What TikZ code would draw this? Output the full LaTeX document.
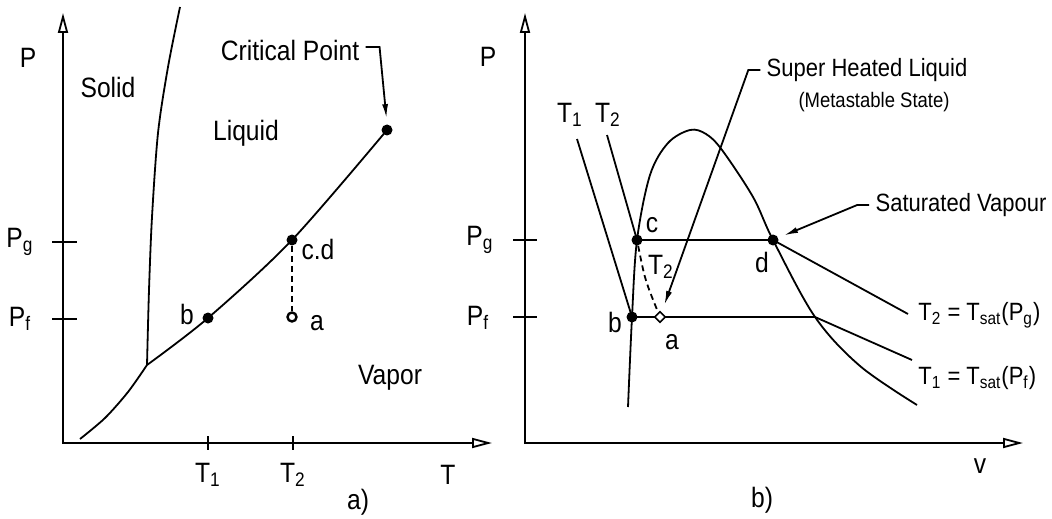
\documentclass[tikz,border=0pt]{standalone}
\usepackage{fontspec}
\setmainfont{Liberation Sans}[FakeStretch=0.88]
\usetikzlibrary{arrows.meta,positioning,shapes.geometric}
\tikzset{
  axline/.style={line width=0.9pt, {Triangle[open,length=10pt,width=5pt]}-{Triangle[open,length=10pt,width=5pt]}},
  curve/.style={line width=0.9pt},
  isobar/.style={line width=1.2pt},
  tickmark/.style={line width=0.9pt},
  dot/.style={circle, fill=black, inner sep=0pt, minimum size=5.5pt},
  odot/.style={circle, draw, line width=1.2pt, fill=white, inner sep=0pt, minimum size=4.5pt},
  odiam/.style={diamond, draw, line width=0.8pt, fill=white, inner sep=0pt, minimum size=5.5pt},
  lead/.style={line width=0.9pt, -{Latex[length=7pt,width=3pt]}},
  lbl/.style={font=\fontsize{14}{16}\selectfont, inner sep=0pt},
  note/.style={font=\fontsize{12.5}{14}\selectfont, inner sep=0pt},
  meta/.style={font=\fontsize{10.5}{12}\selectfont, inner sep=0pt}
}
\begin{document}
\begin{tikzpicture}[x=0.5pt,y=-0.5pt]
  \useasboundingbox (0,0) rectangle (1052,518);

  % ---- a) P-T diagram
  \coordinate (Ao) at (63,443);
  \coordinate (Ay) at (63,13);
  \coordinate (Ax) at (492,443);
  \draw[axline] (Ay) |- (Ax);
  \foreach \y in {242,319}{
    \draw[tickmark] (52,\y) -- (77,\y);
  }
  \foreach \x in {208,293}{
    \draw[tickmark] (\x,436) -- (\x,450);
  }

  \coordinate (tp) at (147,365);
  \coordinate (pb1) at (208,318);
  \coordinate (pcd1) at (292,240);
  \coordinate (pcp) at (387,130);
  \draw[curve] plot[smooth] coordinates {(80,439) (105,418) (128,392) (tp)};
  \draw[curve] plot[smooth] coordinates {(tp) (149,290) (152,217) (158,133) (168,67) (180,7)};
  \draw[curve] plot[smooth, tension=0.5] coordinates {(tp) (pb1) (pcd1) (pcp)};

  \node[dot] (b1) at (pb1) {};
  \node[dot] (cd1) at (pcd1) {};
  \node[dot] (cp) at (pcp) {};
  \node[odot] (a1) at (292,317) {};
  \draw[curve, dashed, dash pattern=on 3pt off 2pt] (cd1) -- (a1);

  \node[lbl] at (28,58) {P};
  \node[lbl] at (20,242) {P\textsubscript{g}};
  \node[lbl] at (20,319) {P\textsubscript{f}};
  \node[lbl] at (108,87) {Solid};
  \node[lbl] at (246,133) {Liquid};
  \node[lbl] at (390,378) {Vapor};
  \node[lbl] (critlbl) at (290,50) {Critical Point};
  \node[lbl] at (187,314) {b};
  \node[lbl] at (318,249) {c.d};
  \node[lbl] at (317,323) {a};
  \node[lbl] at (208,475) {T\textsubscript{1}};
  \node[lbl] at (293,475) {T\textsubscript{2}};
  \node[lbl] at (448,475) {T};
  \node[lbl] at (358,502) {a)};
  \draw[lead, shorten >=3pt] ([xshift=3pt,yshift=1.5pt]critlbl.east) -- ++(14,0) -- (cp.north);

  % ---- b) P-v diagram
  \coordinate (Bo) at (525,443);
  \coordinate (By) at (525,13);
  \coordinate (Bx) at (1023,443);
  \draw[axline] (By) |- (Bx);
  \foreach \y in {240,317}{
    \draw[tickmark] (513,\y) -- (537,\y);
  }

  \coordinate (pb2) at (632,317);
  \coordinate (pc2) at (637,240);
  \coordinate (pd2) at (773,240);
  \coordinate (pm) at (815,317);
  \draw[curve] plot[smooth, tension=0.55] coordinates {(628,407) (pb2) (pc2) (650,175) (668,143) (690,130) (706,134) (722,150) (753,197) (pd2) (pm) (860,366) (917,405)};
  \draw[curve] (577,139) -- (pb2);
  \draw[curve] (607,135) -- (pc2);
  \draw[isobar] (pb2) -- (pm);
  \draw[isobar] (pc2) -- (pd2);
  \draw[curve] (pm) -- (912,360);
  \draw[curve] (pd2) -- (908,314);

  \node[dot] (b2) at (pb2) {};
  \node[dot] (c2) at (pc2) {};
  \node[dot] (d2) at (pd2) {};
  \node[odiam] (a2) at (660,317) {};
  \draw[curve, dashed, dash pattern=on 3pt off 2pt] (c2) .. controls (645,280) .. (a2);

  \node[lbl] at (488,57) {P};
  \node[lbl] at (480,240) {P\textsubscript{g}};
  \node[lbl] at (478,318) {P\textsubscript{f}};
  \node[lbl] at (570,115) {T\textsubscript{1}};
  \node[lbl] at (608,115) {T\textsubscript{2}};
  \node[lbl] at (652,225) {c};
  \node[lbl] at (762,262) {d};
  \node[lbl] at (615,322) {b};
  \node[lbl] at (672,342) {a};
  \node[lbl] at (661,267) {T\textsubscript{2}};
  \node[lbl] at (980,466) {v};
  \node[lbl] at (762,500) {b)};
  \node[note] (sup) at (867,70) {Super Heated Liquid};
  \node[meta] (meta) at (874,102) {(Metastable State)};
  \node[note] (sat) at (961,205) {Saturated Vapour};
  \node[note, anchor=west] (iso2) at (918,315) {T\textsubscript{2} = T\textsubscript{sat}(P\textsubscript{g})};
  \node[note, anchor=west] (iso1) at (918,378) {T\textsubscript{1} = T\textsubscript{sat}(P\textsubscript{f})};
  \draw[lead, shorten >=4pt] ([xshift=-3pt]sup.west) -- ++(-12,0) -- (a2);
  \draw[lead, shorten >=3pt] ([xshift=-3pt]sat.west) -- ++(-12,0) -- (d2);
\end{tikzpicture}
\end{document}
